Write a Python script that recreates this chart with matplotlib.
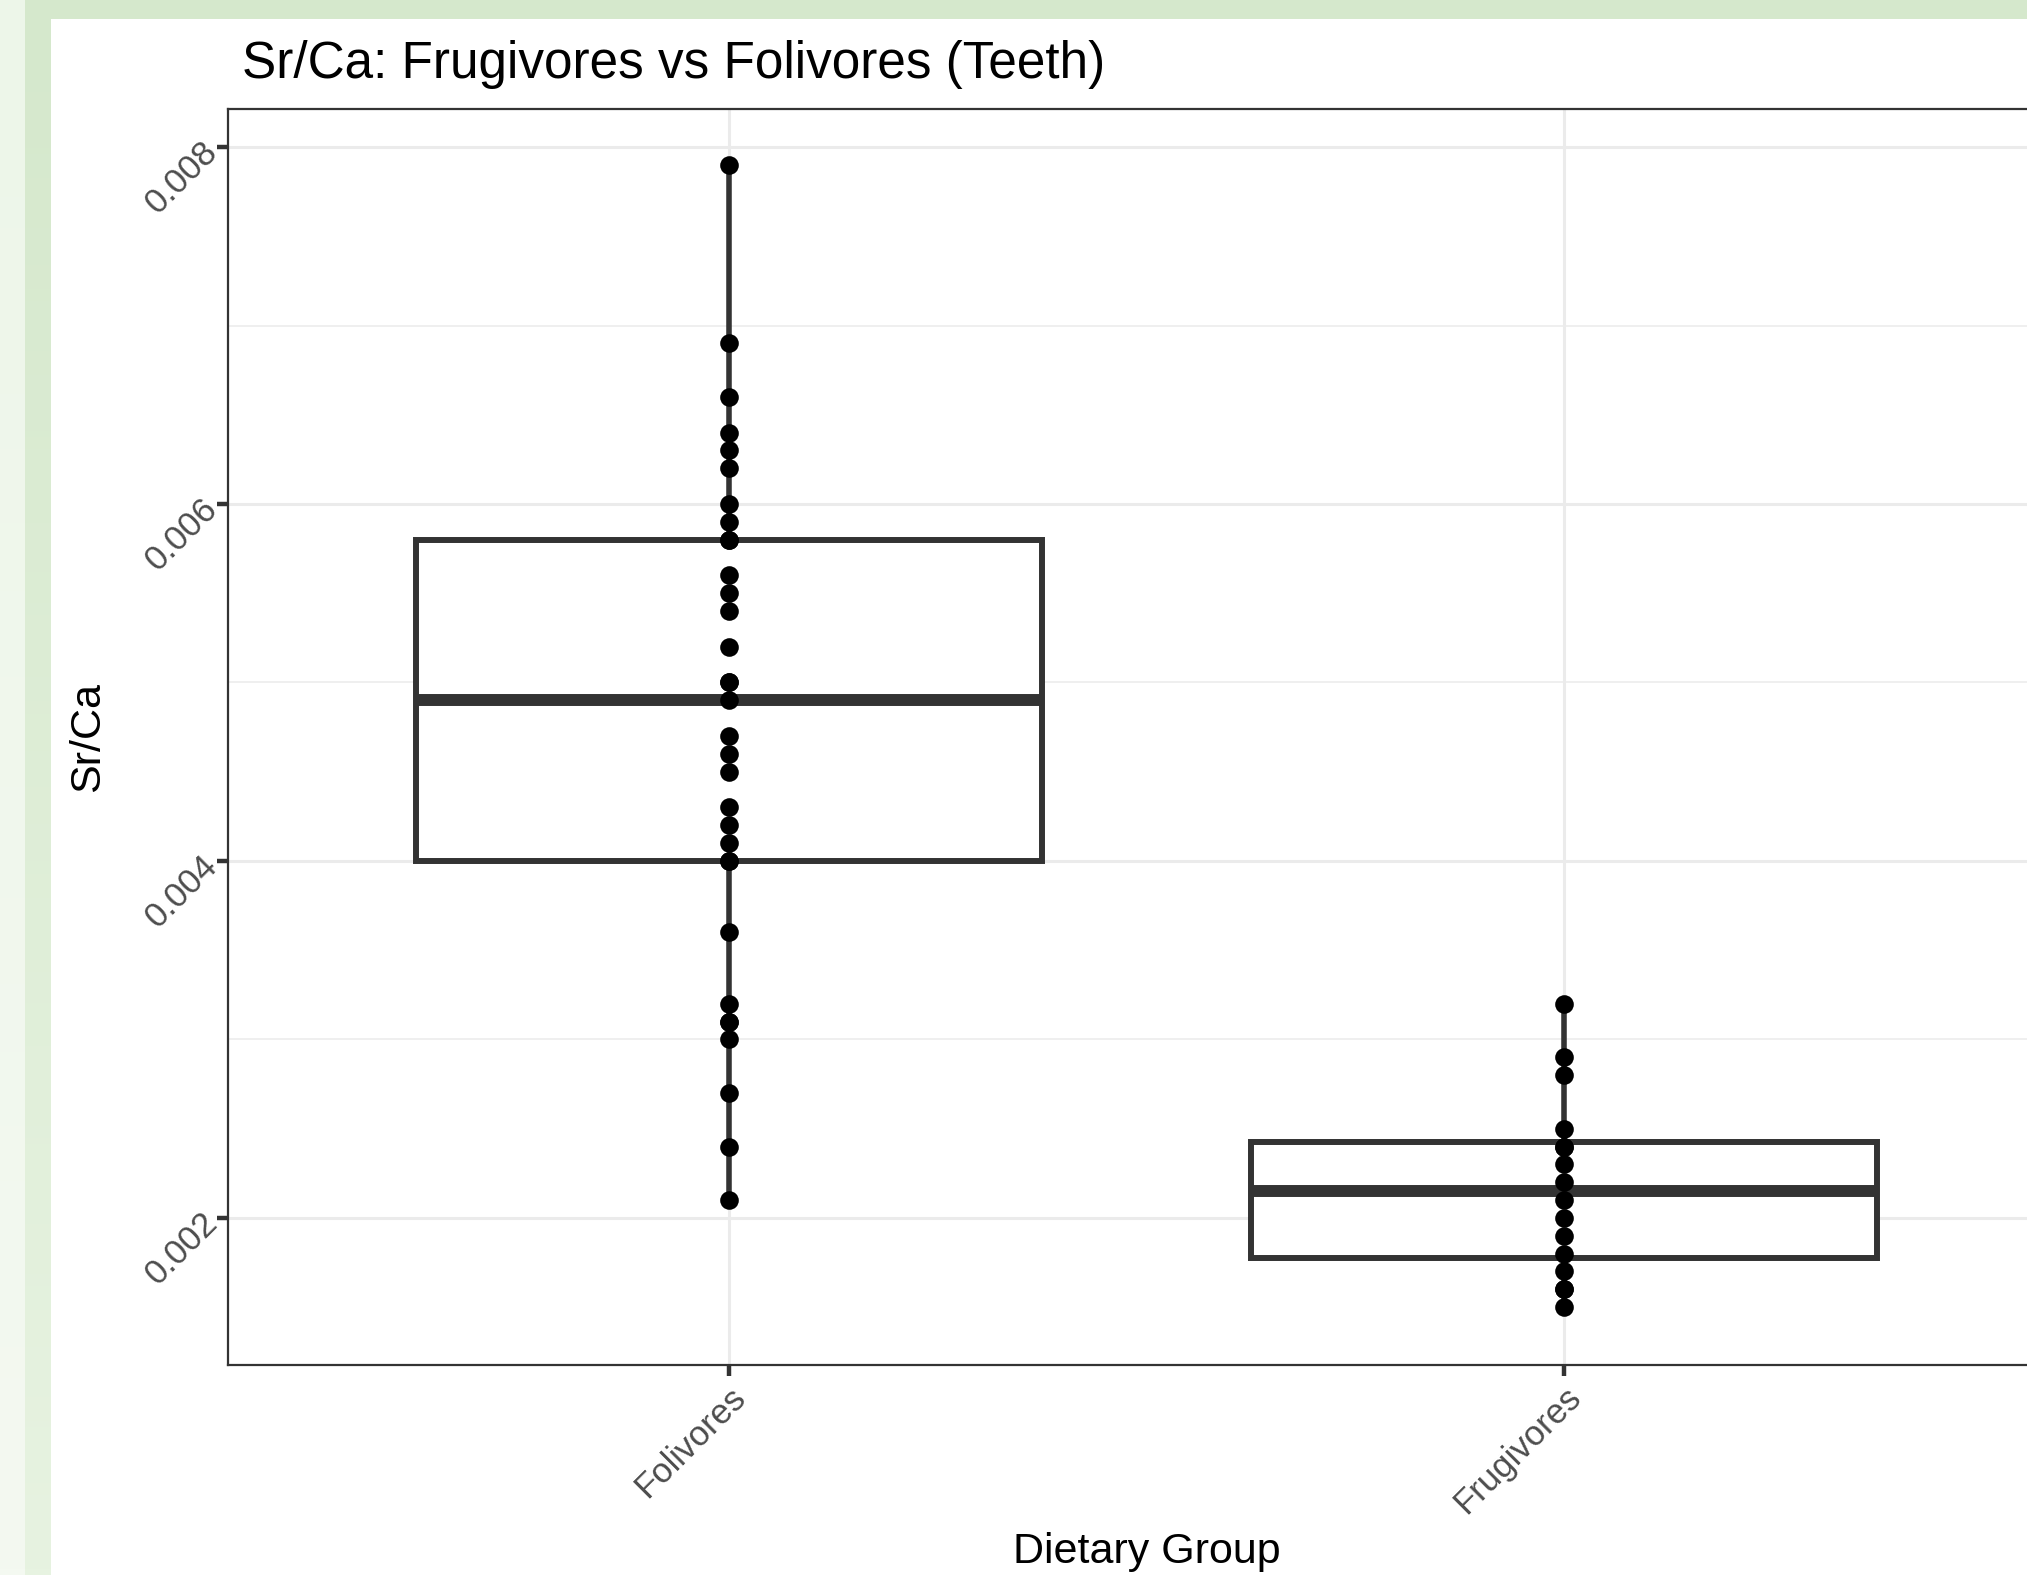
import numpy as np
import matplotlib
matplotlib.use("Agg")
import matplotlib.pyplot as plt
from matplotlib.patches import Rectangle

plt.rcParams['font.family'] = ['Liberation Sans', 'DejaVu Sans']

# Data (Sr/Ca in teeth)
groups = ["Folivores", "Frugivores"]
folivores = [0.0079, 0.0069, 0.0066, 0.0064, 0.0063, 0.0062, 0.0060, 0.0059,
             0.0058, 0.0058, 0.0056, 0.0055, 0.0054, 0.0052, 0.0050, 0.0050,
             0.0049, 0.0047, 0.0046, 0.0045, 0.0043, 0.0042, 0.0041, 0.0040,
             0.0040, 0.0036, 0.0032, 0.0031, 0.0031, 0.0030, 0.0027, 0.0024,
             0.0021]
frugivores = [0.0032, 0.0029, 0.0028, 0.0025, 0.0024, 0.0024, 0.0023, 0.0022,
              0.0021, 0.0020, 0.0019, 0.0018, 0.0017, 0.0016, 0.0016, 0.0015]
y_ticks = [0.002, 0.004, 0.006, 0.008]
y_minor = [0.003, 0.005, 0.007]

W, H = 2027, 1575
fig = plt.figure(figsize=(W / 100, H / 100), dpi=100)
fig.patch.set_facecolor("white")

# green page frame behind the plot
bg = fig.add_axes([0, 0, 1, 1], zorder=-5)
bg.axis("off")
grad = np.linspace(0, 1, 256)[:, None]
c_top = np.array([213, 232, 204]) / 255
c_bot = np.array([231, 243, 225]) / 255
strip = c_top[None, None, :] * (1 - grad[..., None]) + c_bot[None, None, :] * grad[..., None]
bg.imshow(strip, extent=(25, 51, H, 0), aspect="auto")
l_top = np.array([237, 246, 233]) / 255
l_bot = np.array([244, 249, 241]) / 255
lstrip = l_top[None, None, :] * (1 - grad[..., None]) + l_bot[None, None, :] * grad[..., None]
bg.imshow(lstrip, extent=(0, 25, H, 0), aspect="auto")
bg.add_patch(Rectangle((25, 0), W - 25, 19, color="#d5e8cc", lw=0))
bg.set_xlim(0, W)
bg.set_ylim(H, 0)

# main panel
left, right, top, bottom = 228, 2065, 109, 1365
ax = fig.add_axes([left / W, 1 - bottom / H, (right - left) / W, (bottom - top) / H])
ax.set_facecolor("white")

pos = [1, 2]
bp = ax.boxplot([folivores, frugivores], positions=pos, widths=0.75, whis=1.5,
                showfliers=False, showcaps=False, patch_artist=True,
                boxprops=dict(facecolor="white", edgecolor="#333333", linewidth=4.3),
                medianprops=dict(color="#333333", linewidth=8.6, solid_capstyle="butt"),
                whiskerprops=dict(color="#333333", linewidth=4.0))
for b in bp["boxes"]:
    b.set_zorder(3)
for k in ("medians", "whiskers"):
    for ln in bp[k]:
        ln.set_zorder(3)

for i, vals in enumerate([folivores, frugivores]):
    ax.scatter(np.full(len(vals), pos[i]), vals, s=180, color="black",
               linewidths=0, zorder=5)

ax.set_xlim(0.4, 2.6)
ax.set_ylim(0.001176, 0.008213)
ax.set_xticks(pos)
ax.set_xticklabels(groups)
ax.set_yticks(y_ticks)
ax.set_yticklabels([f"{v:.3f}" for v in y_ticks])
ax.set_yticks(y_minor, minor=True)

ax.grid(True, which="major", color="#ebebeb", linewidth=2.2, zorder=0)
ax.grid(True, which="minor", axis="y", color="#ebebeb", linewidth=1.1, zorder=0)
ax.set_axisbelow(True)
ax.tick_params(which="minor", length=0)
ax.tick_params(which="major", length=8, width=3.2, color="#333333",
               labelsize=25, labelcolor="#4d4d4d", pad=3)
for s in ax.spines.values():
    s.set_color("#333333")
    s.set_linewidth(1.6)

for lab in ax.get_xticklabels():
    lab.set_rotation(45)
    lab.set_ha("right")
    lab.set_va("top")
    lab.set_rotation_mode("anchor")
for lab in ax.get_yticklabels():
    lab.set_rotation(45)
    lab.set_ha("right")
    lab.set_va("center")
    lab.set_rotation_mode("anchor")

fig.text(242 / W, 1 - 78 / H, "Sr/Ca: Frugivores vs Folivores (Teeth)",
         fontsize=36.9, color="black", ha="left", va="baseline")
fig.text(88 / W, 1 - ((top + bottom) / 2) / H, "Sr/Ca", rotation=90,
         fontsize=31, ha="center", va="center")
fig.text(((left + right) / 2) / W, 1 - 1552 / H, "Dietary Group",
         fontsize=31, ha="center", va="center")

fig.savefig("out.png", dpi=100)
